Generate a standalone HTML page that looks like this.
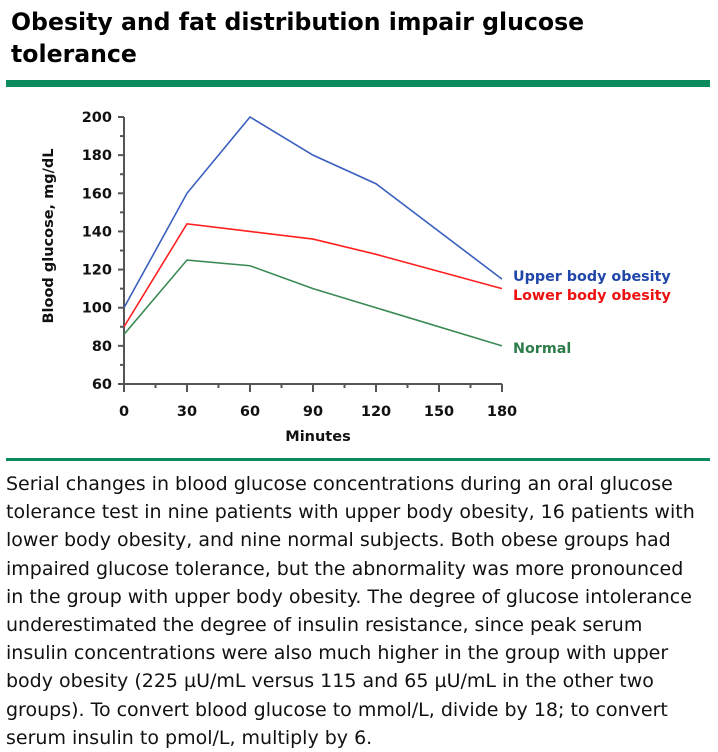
<!DOCTYPE html>
<html><head><meta charset="utf-8"><style>
body{margin:0;width:718px;height:752px;background:#fff;font-family:"DejaVu Sans","Liberation Sans",sans-serif;overflow:hidden;position:relative}
#title{position:absolute;left:11px;top:6px;width:640px;font-size:23.6px;font-weight:bold;line-height:32px;color:#000;margin:0;white-space:nowrap}
.bar{position:absolute;left:6px;width:704px;background:#0b8a5c}
#caption{position:absolute;left:6px;top:470px;width:712px;font-size:19px;line-height:28.2px;color:#111;white-space:nowrap}
svg{position:absolute;left:0;top:0}
</style></head><body>
<h1 id="title">Obesity and fat distribution impair glucose<br>tolerance</h1>
<div class="bar" style="top:80px;height:7px"></div>
<div class="bar" style="top:458px;height:3px"></div>
<svg id="chart" width="718" height="460"></svg>
<div id="caption">Serial changes in blood glucose concentrations during an oral glucose<br>tolerance test in nine patients with upper body obesity, 16 patients with<br>lower body obesity, and nine normal subjects. Both obese groups had<br>impaired glucose tolerance, but the abnormality was more pronounced<br>in the group with upper body obesity. The degree of glucose intolerance<br>underestimated the degree of insulin resistance, since peak serum<br>insulin concentrations were also much higher in the group with upper<br>body obesity (225 µU/mL versus 115 and 65 µU/mL in the other two<br>groups). To convert blood glucose to mmol/L, divide by 18; to convert<br>serum insulin to pmol/L, multiply by 6.</div>
<script>
const minutes=[0,30,60,90,120,180];
const upper=[100,160,200,180,165,115];
const lower=[90,144,140,136,128,110];
const normal=[86,125,122,110,100,80];
const xTicks=[0,30,60,90,120,150,180];
const yTicks=[60,80,100,120,140,160,180,200];
const seriesNames=["Upper body obesity","Lower body obesity","Normal"];
const NS="http://www.w3.org/2000/svg";
const svg=document.getElementById('chart');
const X=v=>124+(v/180)*378;
const Y=v=>384-(v-60)*(267/140);
function mk(t,a,p){const e=document.createElementNS(NS,t);for(const k in a)e.setAttribute(k,a[k]);(p||svg).appendChild(e);return e;}
const F='"DejaVu Sans","Liberation Sans",sans-serif';
const ax=mk('path',{d:`M${X(0)} ${Y(200)}V${Y(60)}H${X(180)}`,stroke:'#555',fill:'none','stroke-width':2});


for(let v=60;v<=200;v+=10){const l=mk('line',{x1:X(0)-(v%20?4:6),x2:X(0),y1:Y(v),y2:Y(v),stroke:'#555','stroke-width':2});

}
for(let v=0;v<=180;v+=15){const l=mk('line',{x1:X(v),x2:X(v),y1:Y(60),y2:Y(60)+(v%30?4:8),stroke:'#555','stroke-width':2});

}
yTicks.forEach(v=>{const t=mk('text',{x:X(0)-12,y:Y(v)+5,'text-anchor':'end','font-size':14.5,'font-weight':'bold','font-family':F,fill:'#111'});t.textContent=v;

});
xTicks.forEach(v=>{const t=mk('text',{x:X(v),y:416,'text-anchor':'middle','font-size':14.5,'font-weight':'bold','font-family':F,fill:'#111'});t.textContent=v;

});
const xt=mk('text',{x:318,y:441,'text-anchor':'middle','font-size':14.5,'font-weight':'bold','font-family':F,fill:'#111'});xt.textContent='Minutes';


const yt=mk('text',{x:0,y:0,transform:'translate(53,236) rotate(-90)','text-anchor':'middle','font-size':14.5,'font-weight':'bold','font-family':F,fill:'#111'});yt.textContent='Blood glucose, mg/dL';


const cols=['#3a5fbf','#ff2020','#3a8a55'];
const lab=['#1f46a8','#ee1111','#2e7d4a'];
const labY=[281,300,353];
[upper,lower,normal].forEach((s,i)=>{
const p=mk('polyline',{points:s.map((v,j)=>X(minutes[j])+','+Y(v)).join(' '),fill:'none',stroke:cols[i],'stroke-width':1.6});


const t=mk('text',{x:513,y:labY[i],'font-size':14.3,'font-weight':'bold','font-family':F,fill:lab[i]});t.textContent=seriesNames[i];


});
</script>
</body></html>
